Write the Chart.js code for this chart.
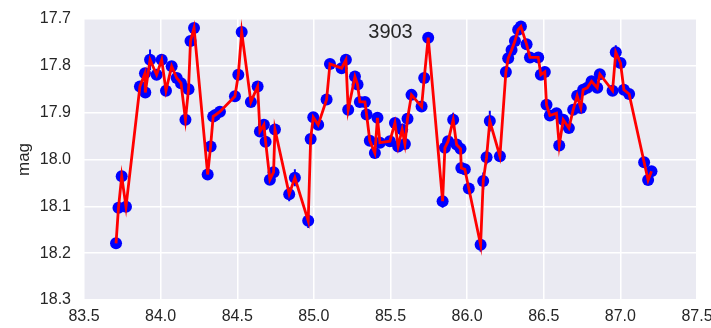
<!DOCTYPE html>
<html>
<head>
<meta charset="utf-8">
<script src="https://cdn.jsdelivr.net/npm/chart.js@4/dist/chart.umd.min.js"></script>
<style>
  html, body { margin: 0; padding: 0; background: #ffffff; }
  #wrap { width: 711px; height: 328px; }
</style>
</head>
<body>
<div id="wrap"><canvas id="lc" width="711" height="328"></canvas></div>
<script>
// Light curve of object 3903: observation time, magnitude and its uncertainty
const titleText = '3903';
const yLabel = 'mag';

const times = [
  83.709, 83.725, 83.746, 83.774, 83.865, 83.898, 83.900, 83.931, 83.974, 84.007,
  84.035, 84.072, 84.105, 84.133, 84.162, 84.182, 84.195, 84.218, 84.307, 84.326,
  84.343, 84.357, 84.387, 84.485, 84.507, 84.529, 84.589, 84.633, 84.648, 84.674,
  84.685, 84.713, 84.737, 84.746, 84.839, 84.876, 84.963, 84.979, 84.996, 85.028,
  85.083, 85.105, 85.181, 85.209, 85.224, 85.268, 85.285, 85.300, 85.333, 85.344,
  85.365, 85.398, 85.415, 85.431, 85.496, 85.529, 85.550, 85.576, 85.594, 85.611,
  85.637, 85.703, 85.720, 85.746, 85.840, 85.855, 85.876, 85.909, 85.931, 85.957,
  85.962, 85.985, 86.011, 86.088, 86.105, 86.127, 86.148, 86.214, 86.253, 86.268,
  86.290, 86.312, 86.333, 86.351, 86.388, 86.410, 86.464, 86.481, 86.507, 86.518,
  86.540, 86.583, 86.601, 86.627, 86.664, 86.692, 86.718, 86.742, 86.757, 86.784,
  86.812, 86.849, 86.866, 86.949, 86.970, 87.001, 87.023, 87.057, 87.155, 87.181,
  87.203
];

const mags = [
  18.179, 18.103, 18.036, 18.101, 17.844, 17.816, 17.857, 17.787, 17.819, 17.787,
  17.853, 17.801, 17.826, 17.837, 17.915, 17.850, 17.747, 17.719, 18.032, 17.972,
  17.908, 17.905, 17.898, 17.865, 17.819, 17.728, 17.877, 17.844, 17.940, 17.926,
  17.962, 18.043, 18.027, 17.936, 18.074, 18.039, 18.131, 17.956, 17.910, 17.926,
  17.872, 17.796, 17.805, 17.787, 17.894, 17.823, 17.840, 17.877, 17.877, 17.904,
  17.960, 17.986, 17.911, 17.964, 17.961, 17.922, 17.972, 17.936, 17.967, 17.913,
  17.862, 17.887, 17.826, 17.740, 18.089, 17.975, 17.961, 17.915, 17.968, 17.977,
  18.018, 18.021, 18.062, 18.182, 18.046, 17.995, 17.918, 17.993, 17.813, 17.784,
  17.766, 17.747, 17.723, 17.716, 17.754, 17.782, 17.782, 17.819, 17.813, 17.883,
  17.906, 17.901, 17.970, 17.915, 17.933, 17.894, 17.864, 17.890, 17.851, 17.847,
  17.833, 17.847, 17.818, 17.853, 17.771, 17.794, 17.851, 17.860, 18.006, 18.044,
  18.025
];

const errs = [
  0.012, 0.010, 0.010, 0.010, 0.008, 0.008, 0.008, 0.022, 0.010, 0.008,
  0.010, 0.008, 0.008, 0.008, 0.010, 0.008, 0.008, 0.008, 0.008, 0.008,
  0.008, 0.008, 0.008, 0.008, 0.008, 0.008, 0.008, 0.008, 0.008, 0.008,
  0.008, 0.008, 0.008, 0.008, 0.015, 0.018, 0.015, 0.008, 0.008, 0.008,
  0.008, 0.008, 0.008, 0.008, 0.008, 0.008, 0.008, 0.008, 0.008, 0.008,
  0.008, 0.012, 0.008, 0.008, 0.008, 0.008, 0.008, 0.008, 0.008, 0.008,
  0.008, 0.008, 0.008, 0.008, 0.014, 0.010, 0.010, 0.015, 0.010, 0.010,
  0.010, 0.010, 0.010, 0.015, 0.018, 0.015, 0.022, 0.012, 0.008, 0.008,
  0.008, 0.008, 0.008, 0.008, 0.008, 0.008, 0.008, 0.008, 0.008, 0.008,
  0.008, 0.008, 0.012, 0.008, 0.008, 0.008, 0.008, 0.008, 0.008, 0.008,
  0.008, 0.008, 0.008, 0.008, 0.015, 0.010, 0.008, 0.008, 0.010, 0.010,
  0.010
];

const xTicks = [83.5, 84.0, 84.5, 85.0, 85.5, 86.0, 86.5, 87.0, 87.5];
const yTicks = [17.7, 17.8, 17.9, 18.0, 18.1, 18.2, 18.3];

const points = times.map((t, i) => ({ x: t, y: mags[i] }));

const FONT = '"Liberation Sans", Arial, sans-serif';
const TEXT = '#262626';

// Axes face colour
const faceBg = {
  id: 'faceBg',
  beforeDraw(chart) {
    const { ctx, chartArea: a } = chart;
    ctx.save();
    ctx.fillStyle = '#EAEAF2';
    ctx.fillRect(a.left, a.top, a.right - a.left, a.bottom - a.top);
    ctx.restore();
  }
};

// Vertical error bars behind the markers
const errorBars = {
  id: 'errorBars',
  beforeDatasetsDraw(chart) {
    const { ctx, scales: { x, y }, chartArea: a } = chart;
    ctx.save();
    ctx.beginPath();
    ctx.rect(a.left, a.top, a.right - a.left, a.bottom - a.top);
    ctx.clip();
    ctx.strokeStyle = '#0000FF';
    ctx.lineWidth = 2;
    ctx.beginPath();
    times.forEach((t, i) => {
      const px = x.getPixelForValue(t);
      ctx.moveTo(px, y.getPixelForValue(mags[i] - errs[i]));
      ctx.lineTo(px, y.getPixelForValue(mags[i] + errs[i]));
    });
    ctx.stroke();
    ctx.restore();
  }
};

// Title text inside the top of the axes
const innerTitle = {
  id: 'innerTitle',
  afterDraw(chart) {
    const { ctx, chartArea: a } = chart;
    ctx.save();
    ctx.font = '20px ' + FONT;
    ctx.fillStyle = TEXT;
    ctx.textAlign = 'center';
    ctx.textBaseline = 'middle';
    ctx.fillText(titleText, (a.left + a.right) / 2, a.top + 13);
    ctx.restore();
  }
};

new Chart(document.getElementById('lc'), {
  type: 'scatter',
  data: {
    datasets: [
      {
        label: 'model',
        data: points,
        showLine: true,
        borderColor: '#FF0000',
        borderWidth: 2.8,
        pointRadius: 0,
        pointHoverRadius: 0,
        tension: 0,
        order: 0
      },
      {
        label: 'obs',
        data: points,
        showLine: false,
        pointRadius: 6,
        pointHoverRadius: 6,
        backgroundColor: '#0000FF',
        borderWidth: 0,
        order: 1
      }
    ]
  },
  options: {
    responsive: false,
    animation: false,
    events: [],
    layout: { padding: { top: 19, right: 14, left: 0, bottom: 0 } },
    plugins: {
      legend: { display: false },
      tooltip: { enabled: false },
      title: { display: false }
    },
    scales: {
      x: {
        type: 'linear',
        min: 83.5,
        max: 87.5,
        afterBuildTicks(scale) { scale.ticks = xTicks.map(v => ({ value: v })); },
        afterFit(scale) {
          scale.height = 28;
          scale.paddingLeft = 0;
          scale.paddingRight = 0;
        },
        grid: { color: '#FFFFFF', lineWidth: 1.5, drawTicks: false },
        border: { display: false },
        ticks: {
          padding: 7,
          maxRotation: 0,
          autoSkip: false,
          color: TEXT,
          font: { family: FONT, size: 16 },
          callback: v => Number(v).toFixed(1)
        }
      },
      y: {
        type: 'linear',
        reverse: true,
        min: 17.7,
        max: 18.3,
        afterBuildTicks(scale) { scale.ticks = yTicks.map(v => ({ value: v })); },
        afterFit(scale) {
          scale.width = 84;
          scale.paddingTop = 0;
          scale.paddingBottom = 0;
        },
        grid: { color: '#FFFFFF', lineWidth: 1.5, drawTicks: false },
        border: { display: false },
        title: {
          display: true,
          text: yLabel,
          color: TEXT,
          font: { family: FONT, size: 17 },
          padding: { top: 14, bottom: 0 }
        },
        ticks: {
          padding: 13,
          autoSkip: false,
          color: TEXT,
          font: { family: FONT, size: 16 },
          callback: v => Number(v).toFixed(1)
        }
      }
    }
  },
  plugins: [faceBg, errorBars, innerTitle]
});
</script>
</body>
</html>
